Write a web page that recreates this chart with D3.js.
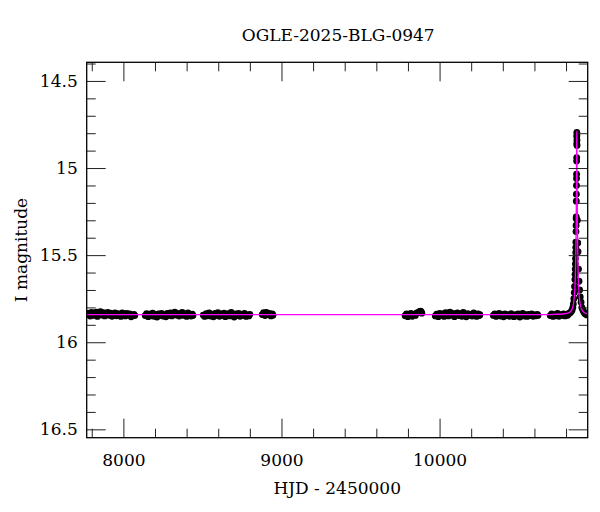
<!DOCTYPE html>
<html>
<head>
<meta charset="utf-8">
<script src="https://cdn.jsdelivr.net/npm/d3@7"></script>
<style>
  body { margin: 0; background: #fff; }
  svg { display: block; }
  text { font-family: "DejaVu Serif", serif; }
</style>
</head>
<body>
<svg id="chart" width="600" height="512"></svg>
<script>
// ---- Data ----
const title = "OGLE-2025-BLG-0947";
const xLabel = "HJD - 2450000";
const yLabel = "I magnitude";

const xMajorTicks = [8000, 9000, 10000];
const xMinorTicks = [7800, 8200, 8400, 8600, 8800, 9200, 9400, 9600, 9800, 10200, 10400, 10600, 10800];
const yMajorTicks = [14.5, 15, 15.5, 16, 16.5];
const yMinorTicks = [14.4, 14.6, 14.7, 14.8, 14.9, 15.1, 15.2, 15.3, 15.4, 15.6, 15.7, 15.8, 15.9, 16.1, 16.2, 16.3, 16.4];

// Observations: HJD - 2450000
const hjd = [
  // season 1
  7772,7781,7790,7799,7809,7818,7828,7836,7845,7855,7864,7873,7882,7892,7901,7910,7919,7928,7938,7947,7956,7965,7975,7984,7993,8002,8012,8021,8030,8040,8049,8058,8067,8072,
  // season 2
  8138,8147,8157,8166,8175,8185,8194,8203,8213,8222,8232,8241,8250,8260,8269,8278,8288,8297,8306,8316,8325,8334,8344,8353,8362,8372,8381,8390,8400,8409,8418,8428,8436,8440,
  // season 3
  8505,8514,8524,8533,8542,8552,8561,8570,8580,8589,8598,8608,8617,8626,8636,8645,8654,8664,8673,8682,8692,8701,8710,8720,8729,8738,8748,8757,8766,8776,8785,8794,8800,
  // season 4
  8878,8887,8896,8905,8915,8924,8933,8942,8946,
  // season 5
  9782,9791,9800,9810,9819,9828,9838,9847,9856,9866,9875,9880,9884,9888,
  // season 6
  9973,9982,9992,10001,10010,10020,10029,10038,10048,10057,10066,10076,10085,10094,10104,10113,10122,10132,10141,10150,10160,10169,10178,10188,10197,10206,10216,10225,10234,10244,10252,10255,
  // season 7
  10340,10349,10358,10368,10377,10386,10396,10405,10414,10424,10433,10442,10452,10461,10470,10480,10489,10498,10508,10517,10526,10536,10545,10554,10564,10573,10582,10592,10601,10610,10618,10622,
  // season 8 baseline
  10700,10709,10718,10728,10737,10746,10756,10765,10774,10784,10793,10802,10810,10818,10825,10832,10838,10843,
  // event
  10846,10849,10852,10854,10856,10857,10858,10859,10860,10861,10861.5,10862,10863,10863.5,10864,10864.5,10865,10865.5,10866,10866.3,10866.6,10867,10867.5,10867.8,10868,10868.3,10868.6,10869,10869.5,
  10872,10874,10876,10879,10882,10886,10890,10895,10900,10905,10910,10915,10920,10926,10932
];
const imag = [
  // season 1
  15.842,15.833,15.850,15.829,15.846,15.836,15.827,15.852,15.835,15.824,15.844,15.830,15.849,15.837,15.828,15.845,15.833,15.851,15.840,15.831,15.848,15.836,15.843,15.852,15.832,15.841,15.849,15.835,15.844,15.837,15.854,15.846,15.840,15.847,
  // season 2
  15.847,15.836,15.853,15.839,15.848,15.833,15.851,15.842,15.855,15.838,15.846,15.834,15.850,15.841,15.854,15.835,15.845,15.831,15.849,15.840,15.827,15.844,15.834,15.850,15.838,15.828,15.846,15.837,15.852,15.832,15.844,15.850,15.839,15.847,
  // season 3
  15.844,15.852,15.836,15.848,15.832,15.850,15.840,15.854,15.835,15.846,15.830,15.851,15.839,15.847,15.833,15.853,15.842,15.836,15.849,15.829,15.845,15.855,15.837,15.847,15.834,15.851,15.840,15.846,15.835,15.852,15.843,15.849,15.840,
  // season 4
  15.841,15.830,15.847,15.828,15.842,15.834,15.849,15.837,15.845,
  // season 5
  15.848,15.837,15.853,15.842,15.835,15.851,15.840,15.846,15.832,15.828,15.823,15.821,15.826,15.833,
  // season 6
  15.849,15.839,15.853,15.834,15.846,15.837,15.852,15.830,15.844,15.849,15.827,15.843,15.835,15.853,15.840,15.831,15.847,15.837,15.851,15.829,15.845,15.854,15.836,15.846,15.840,15.850,15.832,15.844,15.852,15.838,15.847,15.842,
  // season 7
  15.846,15.838,15.852,15.842,15.835,15.850,15.840,15.854,15.837,15.847,15.843,15.851,15.836,15.846,15.853,15.841,15.849,15.838,15.855,15.844,15.835,15.850,15.842,15.852,15.840,15.847,15.837,15.851,15.843,15.848,15.840,15.846,
  // season 8 baseline
  15.847,15.837,15.852,15.841,15.848,15.835,15.851,15.842,15.846,15.837,15.849,15.840,15.845,15.835,15.832,15.825,15.816,15.800,
  // event
  15.780,15.750,15.715,15.680,15.640,15.610,15.580,15.550,15.520,15.485,15.455,15.425,15.365,15.330,15.290,15.280,15.190,15.150,15.100,15.060,15.035,14.960,14.940,14.860,14.820,14.795,14.810,14.840,14.870,
  15.300,15.430,15.480,15.580,15.650,15.700,15.740,15.770,15.800,15.812,15.822,15.830,15.836,15.840,15.843
];

// Microlensing model curve
const modelHjd = [7700, 8500, 9500, 10500, 10700, 10780, 10810, 10830, 10840, 10847, 10852, 10856, 10859, 10861, 10863, 10864.5, 10865.7, 10866.7, 10867.4, 10868, 10868.6, 10869.3, 10870.3, 10871.5, 10873, 10875, 10877, 10880, 10884, 10889, 10896, 10906, 10926, 10960];
const modelMag = [15.842, 15.842, 15.842, 15.842, 15.841, 15.838, 15.833, 15.822, 15.806, 15.78, 15.74, 15.69, 15.62, 15.54, 15.42, 15.28, 15.12, 14.96, 14.85, 14.79, 14.85, 14.96, 15.12, 15.28, 15.42, 15.54, 15.62, 15.69, 15.74, 15.78, 15.806, 15.822, 15.835, 15.84];

// ---- Layout ----
const L = 86.7, R = 587.7, T = 62.3, B = 437.7;
const svg = d3.select("#chart");

const x = d3.scaleLinear().domain([7768, 10937]).range([L, R]);
const y = d3.scaleLinear().domain([14.393, 16.548]).range([T, B]);

const fontSize = 17;
const majorLen = 19, minorLen = 9;

// clip
svg.append("defs").append("clipPath").attr("id", "clip")
  .append("rect").attr("x", L).attr("y", T).attr("width", R - L).attr("height", B - T);

const plot = svg.append("g").attr("clip-path", "url(#clip)");

// points
const obs = hjd.map((t, i) => ({ t, m: imag[i] }));
plot.selectAll("circle.obs").data(obs).join("circle")
  .attr("class", "obs")
  .attr("cx", d => x(d.t))
  .attr("cy", d => y(d.m))
  .attr("r", 3.4)
  .attr("fill", "#000");

// model line
const model = modelHjd.map((t, i) => ({ t, m: modelMag[i] }));
plot.append("path").datum(model)
  .attr("fill", "none")
  .attr("stroke", "#ff00ff")
  .attr("stroke-width", 1.3)
  .attr("d", d3.line().x(d => x(d.t)).y(d => y(d.m)).curve(d3.curveMonotoneX));

// axes
function styleAxis(g) {
  g.select(".domain").remove();
  g.selectAll(".tick line").attr("stroke", "#222").attr("stroke-width", 1);
  g.selectAll(".tick text").attr("font-family", "'DejaVu Serif', serif").attr("font-size", fontSize).attr("fill", "#000");
}

svg.append("g").attr("transform", `translate(0,${B})`)
  .call(d3.axisBottom(x).tickValues(xMajorTicks).tickFormat(d3.format("d")).tickSize(-majorLen).tickPadding(16))
  .call(styleAxis);
svg.append("g").attr("transform", `translate(0,${B})`)
  .call(d3.axisBottom(x).tickValues(xMinorTicks).tickFormat("").tickSize(-minorLen))
  .call(styleAxis);
svg.append("g").attr("transform", `translate(0,${T})`)
  .call(d3.axisTop(x).tickValues(xMajorTicks).tickFormat("").tickSize(-majorLen))
  .call(styleAxis);
svg.append("g").attr("transform", `translate(0,${T})`)
  .call(d3.axisTop(x).tickValues(xMinorTicks).tickFormat("").tickSize(-minorLen))
  .call(styleAxis);

svg.append("g").attr("transform", `translate(${L},0)`)
  .call(d3.axisLeft(y).tickValues(yMajorTicks).tickFormat(d => String(d)).tickSize(-majorLen).tickPadding(9))
  .call(styleAxis);
svg.append("g").attr("transform", `translate(${L},0)`)
  .call(d3.axisLeft(y).tickValues(yMinorTicks).tickFormat("").tickSize(-minorLen))
  .call(styleAxis);
svg.append("g").attr("transform", `translate(${R},0)`)
  .call(d3.axisRight(y).tickValues(yMajorTicks).tickFormat("").tickSize(-majorLen))
  .call(styleAxis);
svg.append("g").attr("transform", `translate(${R},0)`)
  .call(d3.axisRight(y).tickValues(yMinorTicks).tickFormat("").tickSize(-minorLen))
  .call(styleAxis);

// frame
svg.append("rect")
  .attr("x", L).attr("y", T).attr("width", R - L).attr("height", B - T)
  .attr("fill", "none").attr("stroke", "#000").attr("stroke-width", 1.3);

// labels
svg.append("text").attr("x", (L + R) / 2 + 1).attr("y", 41)
  .attr("text-anchor", "middle").attr("font-size", fontSize).text(title);
svg.append("text").attr("x", (L + R) / 2).attr("y", 494)
  .attr("text-anchor", "middle").attr("font-size", fontSize).text(xLabel);
svg.append("text").attr("transform", `translate(27,${(T + B) / 2}) rotate(-90)`)
  .attr("text-anchor", "middle").attr("font-size", fontSize).text(yLabel);
</script>
</body>
</html>
